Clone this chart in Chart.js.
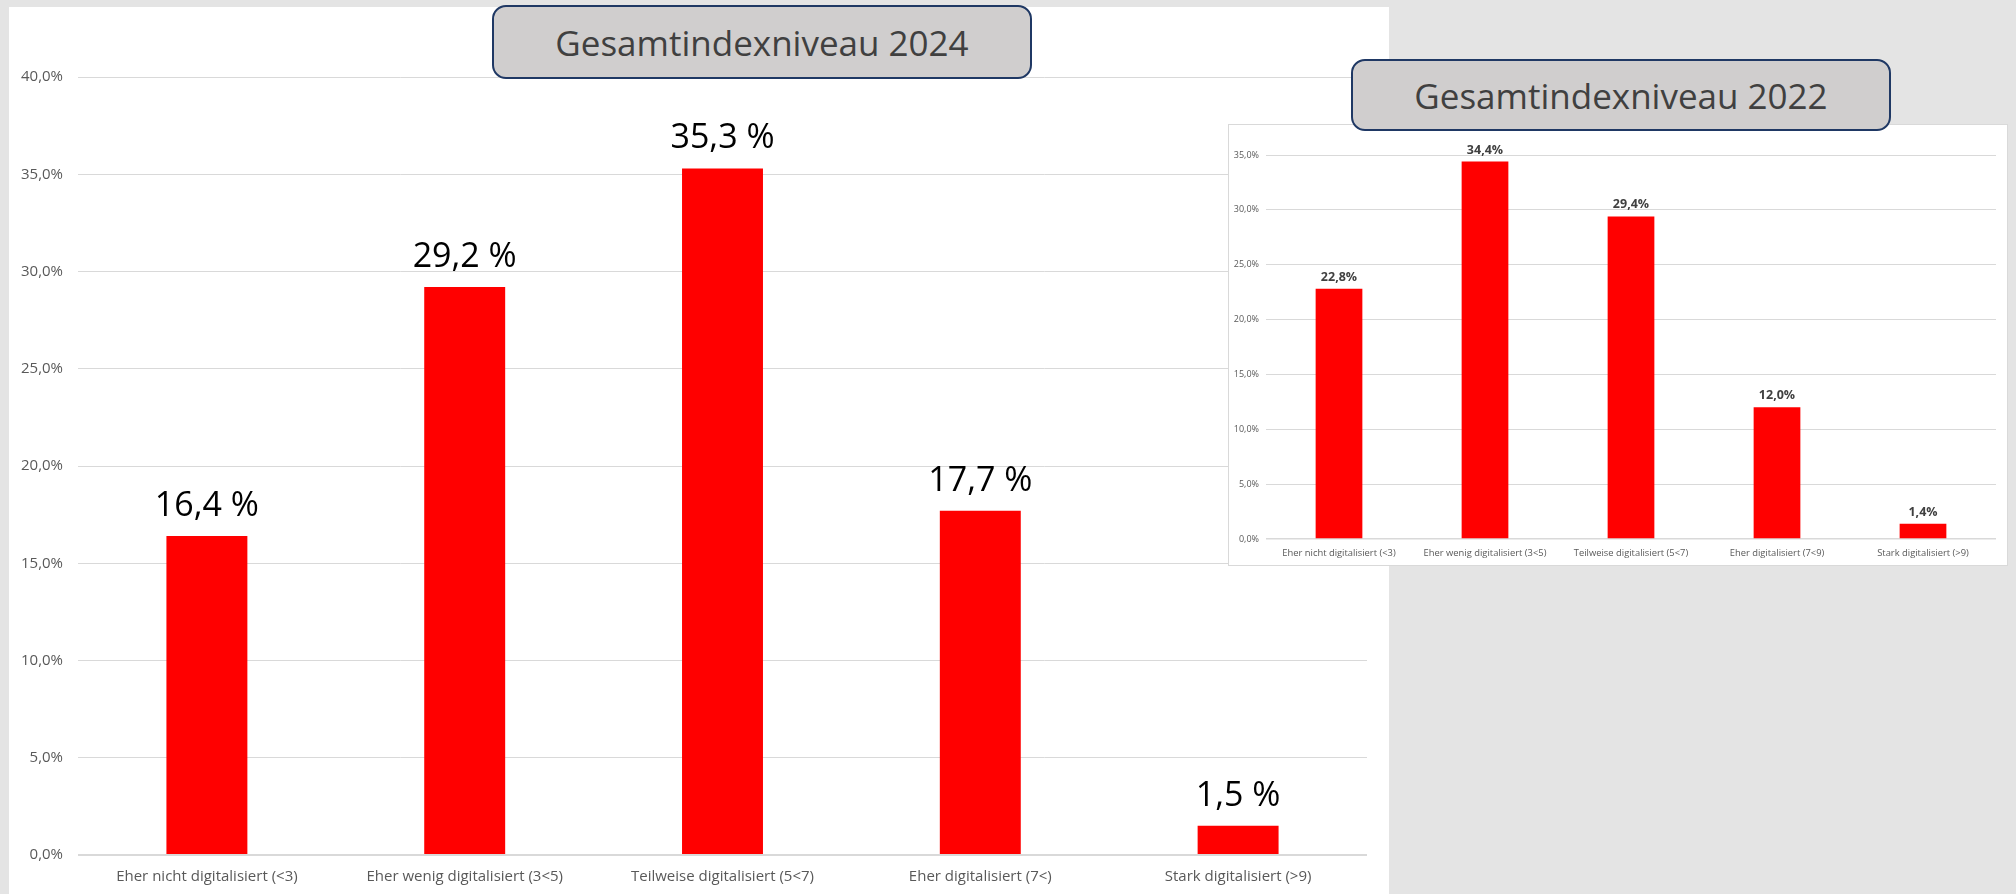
<!DOCTYPE html>
<html lang="de">
<head>
<meta charset="utf-8">
<title>Gesamtindexniveau 2024 / 2022</title>
<script src="https://cdn.jsdelivr.net/npm/chart.js@4.4.1/dist/chart.umd.min.js"></script>
<style>
  html, body { margin: 0; padding: 0; }
  body { width: 2016px; height: 894px; background: #e4e4e4; position: relative; overflow: hidden; font-family: 'Open Sans', sans-serif; }
  #panelMain { position: absolute; left: 9px; top: 7px; width: 1380px; height: 887px; background: #ffffff; }
  #cMain { position: absolute; left: 9px; top: 7px; }
  #panelInset { position: absolute; left: 1228px; top: 124px; width: 780px; height: 442px; background: #ffffff; border: 1px solid #d9d9d9; box-sizing: border-box; }
  #cInset { position: absolute; left: 1228px; top: 124px; }
  .titlebox { position: absolute; background: #d0cece; border: 2.5px solid #1f3864; border-radius: 14px; box-sizing: border-box;
              color: #404040; font-family: 'Open Sans', sans-serif; font-size: 35px; display: flex; align-items: center; justify-content: center; }
  #t2024 { left: 492px; top: 5px; width: 540px; height: 74px; }
  #t2022 { left: 1351px; top: 59px; width: 540px; height: 72px; }
</style>
</head>
<body>
<div id="panelMain"></div>
<canvas id="cMain" width="1380" height="887"></canvas>
<div id="panelInset"></div>
<canvas id="cInset" width="780" height="442"></canvas>
<div class="titlebox" id="t2024">Gesamtindexniveau 2024</div>
<div class="titlebox" id="t2022">Gesamtindexniveau 2022</div>
<script>
// ---- Data ----
const categories2024 = ['Eher nicht digitalisiert (<3)', 'Eher wenig digitalisiert (3<5)', 'Teilweise digitalisiert (5<7)', 'Eher digitalisiert (7<)', 'Stark digitalisiert (>9)'];
const values2024 = [16.4, 29.2, 35.3, 17.7, 1.5];
const yTicks2024 = [0, 5, 10, 15, 20, 25, 30, 35, 40];

const categories2022 = ['Eher nicht digitalisiert (<3)', 'Eher wenig digitalisiert (3<5)', 'Teilweise digitalisiert (5<7)', 'Eher digitalisiert (7<9)', 'Stark digitalisiert (>9)'];
const values2022 = [22.8, 34.4, 29.4, 12.0, 1.4];
const yTicks2022 = [0, 5, 10, 15, 20, 25, 30, 35];

const fmt = v => v.toFixed(1).replace('.', ',');

function valueLabels(opts) {
  return {
    id: 'valueLabels',
    afterDatasetsDraw(chart) {
      const ctx = chart.ctx;
      const meta = chart.getDatasetMeta(0);
      const data = chart.data.datasets[0].data;
      ctx.save();
      ctx.font = opts.font;
      ctx.fillStyle = opts.color;
      ctx.textAlign = 'center';
      ctx.textBaseline = 'alphabetic';
      meta.data.forEach((bar, i) => {
        ctx.fillText(fmt(data[i]) + opts.suffix, bar.x, bar.y - opts.gap);
      });
      ctx.restore();
    }
  };
}

function makeChart(id, cats, vals, ticks, cfg) {
  const yMax = ticks[ticks.length - 1];
  return new Chart(document.getElementById(id), {
    type: 'bar',
    data: {
      labels: cats,
      datasets: [{
        data: vals,
        backgroundColor: '#ff0000',
        borderWidth: 0,
        categoryPercentage: 1.0,
        barPercentage: cfg.barPct
      }]
    },
    options: {
      responsive: false,
      animation: false,
      events: [],
      layout: { padding: { top: cfg.padTop, right: cfg.padRight, left: 0, bottom: 0 } },
      plugins: { legend: { display: false }, tooltip: { enabled: false }, title: { display: false } },
      scales: {
        x: {
          grid: { display: false, drawTicks: false },
          border: { display: false },
          ticks: { color: '#595959', font: { family: "'Open Sans'", size: cfg.xFont }, padding: cfg.xPad, maxRotation: 0, autoSkip: false },
          afterFit: s => { s.height = cfg.xHeight; }
        },
        y: {
          min: 0,
          max: yMax,
          afterBuildTicks: s => { s.ticks = ticks.map(v => ({ value: v })); },
          grid: {
            color: '#d9d9d9',
            lineWidth: c => (c.tick && c.tick.value === 0 ? cfg.zeroWidth : 1),
            drawTicks: false
          },
          border: { display: false },
          ticks: {
            color: '#595959',
            font: { family: "'Open Sans'", size: cfg.yFont },
            padding: cfg.yPad,
            callback: v => fmt(v) + '%'
          },
          afterFit: s => { s.width = cfg.yWidth; }
        }
      }
    },
    plugins: [valueLabels(cfg.labels)]
  });
}

makeChart('cMain', categories2024, values2024, yTicks2024, {
  barPct: 0.314, padTop: 70, padRight: 22, xHeight: 39, xFont: 15, xPad: 13,
  yFont: 15, yPad: 15, yWidth: 69, zeroWidth: 2,
  labels: { font: "34px 'Open Sans'", color: '#000000', suffix: ' %', gap: 20 }
});

makeChart('cInset', categories2022, values2022, yTicks2022, {
  barPct: 0.32, padTop: 31, padRight: 12, xHeight: 27, xFont: 9.4, xPad: 9,
  yFont: 9, yPad: 7, yWidth: 38, zeroWidth: 1.5,
  labels: { font: "bold 12.5px 'Open Sans'", color: '#404040', suffix: '%', gap: 8 }
});
</script>
</body>
</html>
